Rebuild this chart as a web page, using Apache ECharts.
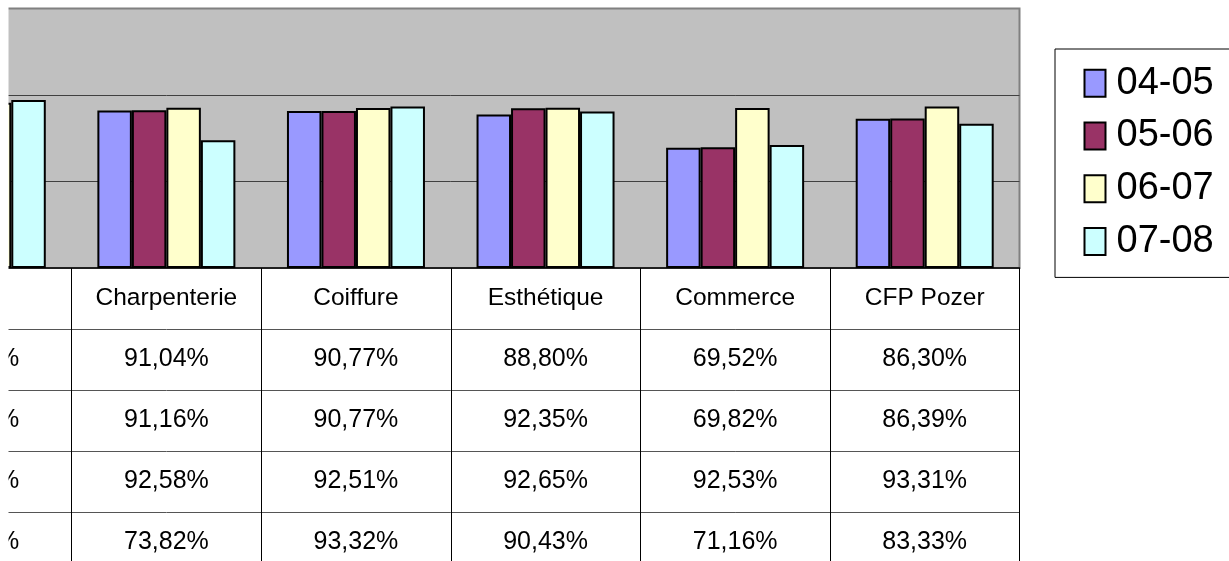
<!DOCTYPE html>
<html><head><meta charset="utf-8">
<script src="https://cdn.jsdelivr.net/npm/echarts@6/dist/echarts.min.js"></script>
<style>html,body{margin:0;padding:0;background:#fff;overflow:hidden;width:1229px;height:561px}
#c{position:absolute;left:-118px;top:0;width:1347px;height:600px}</style>
</head><body><div id="c"></div>
<script>
// ---- data ----
const categories = ['Total', 'Charpenterie', 'Coiffure', 'Esthétique', 'Commerce', 'CFP Pozer'];
const seriesNames = ['04-05', '05-06', '06-07', '07-08'];
const s0405 = [93.10, 91.04, 90.77, 88.80, 69.52, 86.30];
const s0506 = [93.90, 91.16, 90.77, 92.35, 69.82, 86.39];
const s0607 = [95.50, 92.58, 92.51, 92.65, 92.53, 93.31];
const s0708 = [97.05, 73.82, 93.32, 90.43, 71.16, 83.33];
const yTicks = [0, 50, 100, 150];
const colors = ['#9999FF', '#993366', '#FFFFCC', '#CCFFFF'];

const allSeries = [s0405, s0506, s0607, s0708];
const font = "'Liberation Sans', Arial, sans-serif";
const fmt = v => v.toFixed(2).replace('.', ',') + '%';

// chart canvas is shifted 118px left of the page (left part of the chart is cropped)
const SHIFT = 118;
const GL = 0, GW = 1137.5;

const cellData = [];
allSeries.forEach((arr, r) => {
  arr.forEach((v, i) => cellData.push([categories[i], seriesNames[r], v]));
});

const chart = echarts.init(document.getElementById('c'), null, {renderer: 'canvas'});
chart.setOption({
  animation: false,
  backgroundColor: '#fff',
  grid: [
    {left: GL, width: GW, top: 8.5, height: 259.5, show: true,
     backgroundColor: '#C0C0C0', borderColor: '#808080', borderWidth: 2},
    {left: GL, width: GW, top: 268, height: 305}
  ],
  xAxis: [
    {gridIndex: 0, type: 'category', data: categories,
     axisLine: {lineStyle: {color: '#000', width: 1.5}}, axisTick: {show: false},
     axisLabel: {interval: 0, margin: 30, verticalAlign: 'middle', fontSize: 24.5,
                 fontFamily: font, color: '#000'}},
    {gridIndex: 1, type: 'category', data: categories,
     axisLine: {show: false}, axisTick: {show: false}, axisLabel: {show: false},
     splitLine: {show: true, lineStyle: {color: '#000', width: 1}}}
  ],
  yAxis: [
    {gridIndex: 0, type: 'value', min: yTicks[0], max: yTicks[yTicks.length - 1],
     interval: yTicks[1] - yTicks[0],
     axisLabel: {show: false}, axisLine: {show: false}, axisTick: {show: false},
     splitLine: {show: true, showMinLine: false, showMaxLine: false,
                 lineStyle: {color: '#404040', width: 1}}},
    {gridIndex: 1, type: 'category', inverse: true, data: [''].concat(seriesNames),
     axisLabel: {show: false}, axisLine: {show: false}, axisTick: {show: false},
     splitLine: {show: true, showMinLine: false, lineStyle: {color: '#555', width: 1}}}
  ],
  legend: {
    data: seriesNames, orient: 'vertical', left: 1055 + SHIFT, top: 49,
    icon: 'rect', itemWidth: 21, itemHeight: 27, itemGap: 14.7,
    padding: [15.3, 17, 17, 28.5], borderColor: '#000', borderWidth: 1,
    backgroundColor: '#fff',
    itemStyle: {borderColor: '#000', borderWidth: 2},
    textStyle: {fontSize: 38, fontFamily: font, color: '#000',
                padding: [0, 0, 0, 6]}
  },
  series: seriesNames.map((name, k) => ({
    name: name, type: 'bar', xAxisIndex: 0, yAxisIndex: 0,
    data: allSeries[k], barWidth: 34.5, barGap: '0%',
    itemStyle: {color: colors[k], borderColor: '#000', borderWidth: 2},
    silent: true
  })).concat([{
    type: 'scatter', xAxisIndex: 1, yAxisIndex: 1, data: cellData,
    symbolSize: 1, itemStyle: {color: 'rgba(0,0,0,0)', opacity: 1}, silent: true,
    label: {show: true, position: 'inside', fontSize: 25, fontFamily: font, color: '#000',
            opacity: 1, formatter: p => fmt(p.value[2])}
  }]),
  graphic: [{type: 'rect', left: SHIFT, top: 0, z: 100,
             shape: {width: 8.5, height: 600}, style: {fill: '#fff'}}]
});
</script></body></html>
